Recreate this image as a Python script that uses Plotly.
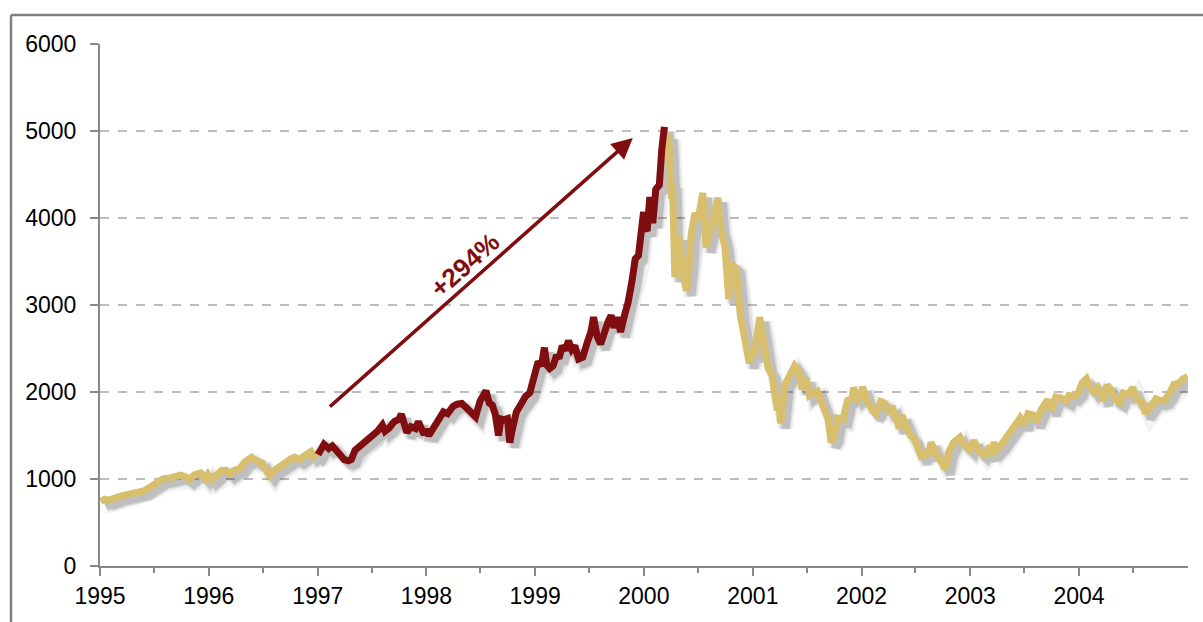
import pandas as pd
import plotly.graph_objects as go

# NASDAQ Composite, values (approx. semi-monthly with key extremes)
dates = [
 "1995-01-03","1995-01-17","1995-01-31","1995-02-14","1995-02-28","1995-03-14","1995-03-31","1995-04-13","1995-04-28",
 "1995-05-12","1995-05-31","1995-06-15","1995-06-30","1995-07-14","1995-07-31","1995-08-15","1995-08-31","1995-09-13",
 "1995-09-29","1995-10-13","1995-10-27","1995-11-15","1995-11-30","1995-12-05","1995-12-20","1995-12-29",
 "1996-01-10","1996-01-31","1996-02-14","1996-02-29","1996-03-12","1996-03-29","1996-04-15","1996-04-30","1996-05-15",
 "1996-05-24","1996-06-14","1996-06-28","1996-07-15","1996-07-24","1996-07-31","1996-08-15","1996-08-30","1996-09-16",
 "1996-09-30","1996-10-15","1996-10-31","1996-11-15","1996-11-29","1996-12-09","1996-12-16","1996-12-31",
 "1997-01-02","1997-01-22","1997-02-07","1997-02-19","1997-03-04","1997-03-18","1997-03-31","1997-04-14","1997-04-24",
 "1997-05-06","1997-05-20","1997-06-06","1997-06-20","1997-07-07","1997-07-21","1997-08-06","1997-08-15","1997-08-29",
 "1997-09-15","1997-09-30","1997-10-09","1997-10-27","1997-11-10","1997-11-25","1997-12-05","1997-12-24","1997-12-31",
 "1998-01-09","1998-01-30","1998-02-13","1998-02-27","1998-03-13","1998-03-31","1998-04-14","1998-04-30","1998-05-15",
 "1998-05-29","1998-06-15","1998-06-30","1998-07-10","1998-07-20","1998-07-31","1998-08-10","1998-08-20","1998-08-31",
 "1998-09-08","1998-09-18","1998-09-30","1998-10-08","1998-10-15","1998-10-30","1998-11-13","1998-11-30","1998-12-14",
 "1998-12-31",
 "1999-01-11","1999-01-22","1999-02-01","1999-02-09","1999-02-19","1999-03-02","1999-03-12","1999-03-24","1999-04-02",
 "1999-04-13","1999-04-23","1999-05-04","1999-05-14","1999-05-27","1999-06-10","1999-06-24","1999-07-08","1999-07-16",
 "1999-07-28","1999-08-09","1999-08-23","1999-09-02","1999-09-13","1999-09-23","1999-10-04","1999-10-15","1999-10-28",
 "1999-11-09","1999-11-22","1999-12-03","1999-12-14","1999-12-22","1999-12-31",
 "2000-01-04","2000-01-12","2000-01-21","2000-01-31","2000-02-10","2000-02-22","2000-03-01","2000-03-10","2000-03-15",
 "2000-03-24","2000-04-03","2000-04-06","2000-04-14","2000-04-20","2000-04-27","2000-05-10","2000-05-23","2000-05-31",
 "2000-06-08","2000-06-21","2000-06-30","2000-07-17","2000-07-28","2000-08-10","2000-08-31","2000-09-06","2000-09-13",
 "2000-09-29","2000-10-12","2000-10-20","2000-11-06","2000-11-20","2000-12-04","2000-12-20","2000-12-29",
 "2001-01-05","2001-01-24","2001-02-07","2001-02-21","2001-03-06","2001-03-22","2001-03-30","2001-04-04","2001-04-18",
 "2001-05-01","2001-05-21","2001-06-05","2001-06-15","2001-06-29","2001-07-10","2001-07-24","2001-08-06","2001-08-20",
 "2001-08-31","2001-09-10","2001-09-21","2001-10-01","2001-10-12","2001-10-31","2001-11-14","2001-11-30","2001-12-05",
 "2001-12-20","2001-12-31",
 "2002-01-04","2002-01-22","2002-02-07","2002-02-20","2002-03-06","2002-03-20","2002-04-03","2002-04-17","2002-04-30",
 "2002-05-07","2002-05-16","2002-05-31","2002-06-14","2002-06-28","2002-07-10","2002-07-23","2002-07-31","2002-08-13",
 "2002-08-22","2002-09-06","2002-09-20","2002-09-30","2002-10-09","2002-10-21","2002-11-06","2002-11-27","2002-12-10",
 "2002-12-31",
 "2003-01-13","2003-01-31","2003-02-13","2003-02-28","2003-03-11","2003-03-21","2003-03-31","2003-04-14","2003-04-30",
 "2003-05-15","2003-05-30","2003-06-17","2003-06-30","2003-07-14","2003-07-31","2003-08-08","2003-08-29","2003-09-18",
 "2003-09-30","2003-10-15","2003-10-31","2003-11-21","2003-11-28","2003-12-15","2003-12-31",
 "2004-01-12","2004-01-26","2004-02-06","2004-02-20","2004-03-05","2004-03-24","2004-04-05","2004-04-19","2004-04-30",
 "2004-05-17","2004-05-28","2004-06-14","2004-06-30","2004-07-15","2004-07-30","2004-08-12","2004-08-31","2004-09-15",
 "2004-09-30","2004-10-15","2004-10-29","2004-11-15","2004-11-30","2004-12-15","2004-12-31",
]
values = [
 743, 768, 755, 780, 793, 805, 817, 825, 843,
 855, 865, 900, 933, 985, 1001, 1005, 1020, 1045,
 1044, 1030, 995, 1050, 1059, 1069, 1005, 1052,
 990, 1060, 1100, 1100, 1060, 1101, 1120, 1191, 1230,
 1250, 1200, 1185, 1080, 1042, 1081, 1110, 1141, 1190,
 1227, 1250, 1222, 1270, 1293, 1315, 1260, 1291,
 1280, 1400, 1350, 1380, 1330, 1270, 1222, 1210, 1225,
 1330, 1370, 1410, 1440, 1490, 1550, 1620, 1550, 1587,
 1660, 1686, 1745, 1535, 1600, 1580, 1660, 1510, 1570,
 1500, 1619, 1700, 1771, 1750, 1835, 1860, 1868, 1820,
 1779, 1715, 1895, 1950, 2014, 1872, 1850, 1750, 1499,
 1690, 1680, 1694, 1419, 1550, 1771, 1850, 1950, 1990,
 2193,
 2350, 2300, 2510, 2310, 2270, 2300, 2400, 2410, 2530,
 2480, 2590, 2490, 2530, 2380, 2400, 2560, 2700, 2860,
 2640, 2550, 2720, 2800, 2880, 2740, 2860, 2690, 2880,
 3030, 3270, 3530, 3570, 3850, 4069,
 3900, 3850, 4240, 3940, 4330, 4380, 4780, 5048, 4700,
 4960, 4220, 4400, 3321, 3640, 3800, 3380, 3164, 3401,
 3820, 4060, 3966, 4289, 3660, 3850, 4206, 4234, 3900,
 3673, 3070, 3480, 3420, 2875, 2620, 2330, 2471,
 2400, 2860, 2600, 2270, 2200, 1830, 1840, 1638, 2080,
 2170, 2300, 2230, 2030, 2161, 1960, 1990, 2010, 1880,
 1805, 1695, 1423, 1480, 1700, 1690, 1900, 1931, 2050,
 1920, 1950,
 2060, 1880, 1780, 1750, 1890, 1870, 1780, 1800, 1688,
 1580, 1730, 1616, 1500, 1463, 1350, 1230, 1328, 1270,
 1420, 1300, 1220, 1172, 1114, 1310, 1420, 1480, 1400,
 1336,
 1440, 1321, 1280, 1338, 1271, 1420, 1341, 1390, 1464,
 1540, 1596, 1700, 1623, 1750, 1735, 1650, 1810, 1910,
 1787, 1940, 1932, 1900, 1960, 1950, 2003,
 2110, 2153, 2060, 2000, 2050, 1900, 2080, 2020, 1920,
 1880, 1987, 1970, 2048, 1910, 1887, 1752, 1838, 1920,
 1897, 1910, 1975, 2090, 2097, 2150, 2175,
]
rally_start = "1997-01-02"
rally_peak = "2000-03-10"
rally_label = "+294%"
year_ticks = ["1995","1996","1997","1998","1999","2000","2001","2002","2003","2004"]
y_ticks = [0, 1000, 2000, 3000, 4000, 5000, 6000]

TAN = "#D7BF6D"
RED = "#800D10"
FONT = "Liberation Sans Narrow, Arial Narrow, Liberation Sans, Arial, sans-serif"

df = pd.DataFrame({"d": pd.to_datetime(dates), "v": values})
s, p = pd.Timestamp(rally_start), pd.Timestamp(rally_peak)
pre = df[df.d <= s]
mid = df[(df.d >= s) & (df.d <= p)]
post = df[df.d >= p]

x0, x1 = pd.Timestamp("1995-01-01"), pd.Timestamp("2005-01-01")
plot_w, plot_h = 1088, 522
span = x1 - x0
dx = span * (5 / plot_w)          # shadow offset 5px right
dy = 6000 * 5 / plot_h            # shadow offset 5px down

fig = go.Figure()
# soft shadow (overlay axes with shifted ranges)
for w, a in [(15, 0.06), (11, 0.10), (8, 0.16)]:
    fig.add_trace(go.Scatter(x=df.d, y=df.v, mode="lines", xaxis="x2", yaxis="y2",
                             line=dict(color=f"rgba(40,40,40,{a})", width=w), hoverinfo="skip"))
for seg, col in [(pre, TAN), (post, TAN), (mid, RED)]:
    fig.add_trace(go.Scatter(x=seg.d, y=seg.v, mode="lines", xaxis="x3", yaxis="y3",
                             line=dict(color=col, width=7), hoverinfo="skip"))

fig.update_layout(
    width=1203, height=622, showlegend=False,
    margin=dict(l=100, r=15, t=44, b=56),
    paper_bgcolor="white", plot_bgcolor="white",
    font=dict(family=FONT, size=23, color="black"),
    xaxis=dict(range=[x0, x1], type="date", tickvals=[pd.Timestamp(y + "-01-01") for y in year_ticks],
               ticktext=year_ticks, showgrid=False, showline=True, linecolor="#888888", linewidth=2,
               ticks="outside", ticklen=8, tickwidth=2, tickcolor="#888888",
               minor=dict(tickvals=[pd.Timestamp(y + "-07-01") for y in year_ticks], ticks="outside",
                          ticklen=5, tickwidth=2, tickcolor="#888888", showgrid=False),
               zeroline=False, fixedrange=True),
    yaxis=dict(range=[0, 6000], tickvals=y_ticks, showgrid=True, gridcolor="#BDBDBD", griddash="dash",
               gridwidth=1.5, showline=True, linecolor="#888888", linewidth=2, ticks="outside", ticklen=8,
               tickwidth=2, tickcolor="#888888", zeroline=False, ticklabelstandoff=9),
    xaxis2=dict(range=[x0 - dx, x1 - dx], type="date", overlaying="x", visible=False),
    yaxis2=dict(range=[dy, 6000 + dy], overlaying="y", visible=False),
    xaxis3=dict(range=[x0, x1], type="date", overlaying="x", visible=False),
    yaxis3=dict(range=[0, 6000], overlaying="y", visible=False),
)

# outer frame (top and left edges visible)
fig.add_shape(type="line", xref="paper", yref="paper", x0=-0.0818, x1=1.2, y0=1.0556, y1=1.0556,
              line=dict(color="#808080", width=2.5))
fig.add_shape(type="line", xref="paper", yref="paper", x0=-0.0818, x1=-0.0818, y0=-0.2, y1=1.0556,
              line=dict(color="#808080", width=2.5))

# arrow
fig.add_annotation(x="1999-11-25", y=4920, ax="1997-02-06", ay=1816, xref="x", yref="y",
                   axref="x", ayref="y", text="", showarrow=True, arrowhead=2, arrowsize=1.2,
                   arrowwidth=3.5, arrowcolor=RED)
fig.add_annotation(x="1998-05-10", y=3460, xref="x", yref="y", text=f"<b>{rally_label}</b>",
                   showarrow=False, textangle=-41.5, font=dict(family=FONT, size=26, color=RED))

fig.write_html("out.html")
